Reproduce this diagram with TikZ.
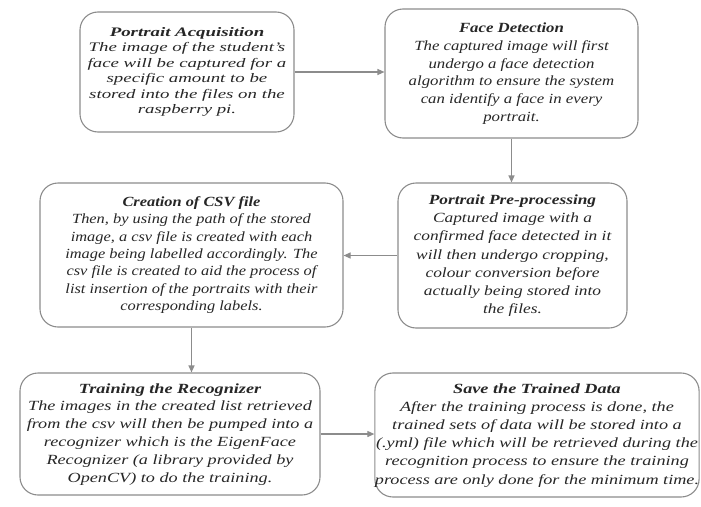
\documentclass[tikz,border=0pt]{standalone}
\usepackage{fontspec}
\setmainfont{Liberation Serif}
\usepackage{graphicx}
\usetikzlibrary{arrows.meta,calc}
\definecolor{boxgray}{gray}{0.55}
\definecolor{txtgray}{gray}{0.15}
\newcommand{\stage}[3]{\scalebox{#1}[1]{\begin{tabular}{@{}c@{}}\bfseries #2\\ #3\end{tabular}}}
\tikzset{
  stagebox/.style={draw=boxgray, line width=1.1pt, rounded corners=18pt, inner sep=0pt,
    text=txtgray, font=\fontsize{14}{17.8}\selectfont\itshape},
  flow/.style={draw=boxgray, line width=1.1pt, -{Triangle[length=7pt,width=6pt]}}
}

\begin{document}
\begin{tikzpicture}[x=1pt,y=-1pt]
    \useasboundingbox (0,0) rectangle (701,506);
    %%Hang tren
    \node[stagebox, minimum width=214pt, minimum height=120pt,
      font=\fontsize{13}{15.4}\selectfont\itshape] (acq) at (187,72)
      {\stage{1.45}{Portrait Acquisition}{The image of the student's\\face will be captured for a\\specific amount to be\\stored into the files on the\\raspberry pi.}};
    \node[stagebox, minimum width=253pt, minimum height=129pt] (detect) at (511.5,73.5)
      {\stage{1.2}{Face Detection}{The captured image will first\\undergo a face detection\\algorithm to ensure the system\\can identify a face in every\\portrait.}};
    %%Hang giua
    \node[stagebox, minimum width=229pt, minimum height=145pt, font=\fontsize{14}{18.2}\selectfont\itshape] (prep) at (512.5,255.5)
      {\stage{1.24}{Portrait Pre-processing}{Captured image with a\\confirmed face detected in it\\will then undergo cropping,\\colour conversion before\\actually being stored into\\the files.}};
    \node[stagebox, minimum width=303pt, minimum height=144pt, font=\fontsize{14}{17.3}\selectfont\itshape] (csv) at (191.5,255)
      {\stage{1.17}{Creation of CSV file}{Then, by using the path of the stored\\image, a csv file is created with each\\image being labelled accordingly. The\\csv file is created to aid the process of\\list insertion of the portraits with their\\corresponding labels.}};
    %%Hang duoi
    \node[stagebox, minimum width=300pt, minimum height=122pt] (train) at (170,434)
      {\stage{1.3}{Training the Recognizer}{The images in the created list retrieved\\from the csv will then be pumped into a\\recognizer which is the EigenFace\\Recognizer (a library provided by\\OpenCV) to do the training.}};
    \node[stagebox, minimum width=320pt, minimum height=124pt, font=\fontsize{14}{18.2}\selectfont\itshape] (save) at (537,435)
      {\stage{1.3}{Save the Trained Data}{After the training process is done, the\\trained sets of data will be stored into a\\(.yml) file which will be retrieved during the\\recognition process to ensure the training\\process are only done for the minimum time.}};
    %%Cac mui ten
    \draw[flow] (acq.east) -- (acq.east -| detect.west);
    \draw[flow] (detect.south) -- (detect.south |- prep.north);
    \draw[flow] (prep.west) -- (prep.west -| csv.east);
    \draw[flow] (csv.south) -- (csv.south |- train.north);
    \draw[flow] (train.east) -- (train.east -| save.west);
\end{tikzpicture}
\end{document}
